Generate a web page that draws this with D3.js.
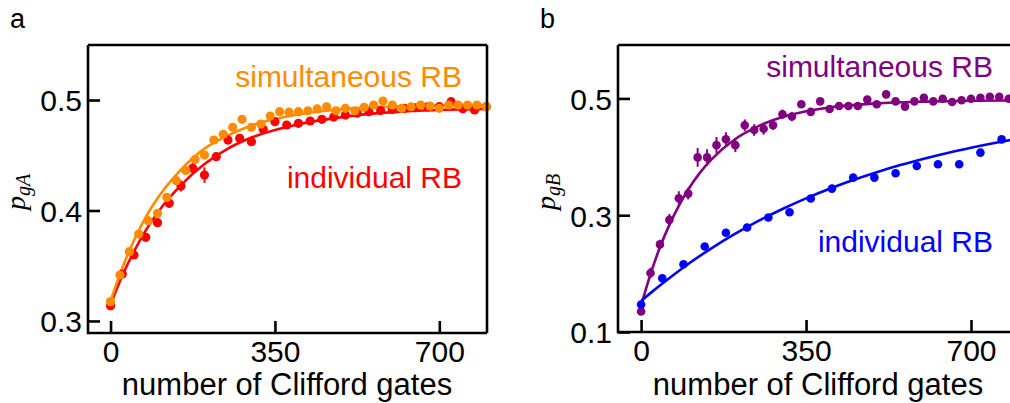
<!DOCTYPE html>
<html>
<head>
<meta charset="utf-8">
<script src="https://cdn.jsdelivr.net/npm/d3@7"></script>
<style>
  body { margin: 0; background: #fff; }
  svg text { font-family: "Liberation Sans", Arial, sans-serif; fill: #000; }
</style>
</head>
<body>
<div id="chart"></div>
<script>
// panel a: qubit A, simultaneous vs individual RB
const simAGates = [0, 20, 40, 60, 80, 100, 120, 140, 160, 180, 200, 220, 240, 260, 280, 300, 320, 340, 360, 380, 400, 420, 440, 460, 480, 500, 520, 540, 560, 580, 600, 620, 640, 660, 680, 700, 720, 740, 760, 780, 800];
const simAProb = [0.3175, 0.3416, 0.3627, 0.3787, 0.3908, 0.3975, 0.4119, 0.427, 0.4362, 0.4462, 0.4502, 0.4638, 0.469, 0.4753, 0.4825, 0.4753, 0.4783, 0.4855, 0.4894, 0.489, 0.4894, 0.4903, 0.4919, 0.4939, 0.4903, 0.4925, 0.4903, 0.4934, 0.4955, 0.4991, 0.4955, 0.4925, 0.4939, 0.4955, 0.4946, 0.4925, 0.4955, 0.4955, 0.4955, 0.4955, 0.4939];
const indAGates = [0, 25, 50, 75, 100, 125, 150, 175, 200, 225, 250, 275, 300, 325, 350, 375, 400, 425, 450, 475, 500, 525, 550, 575, 600, 625, 650, 675, 700, 725, 750, 775, 800];
const indAProb = [0.3138, 0.3425, 0.3597, 0.3757, 0.389, 0.4065, 0.4222, 0.4382, 0.4321, 0.4487, 0.4638, 0.4653, 0.4623, 0.4735, 0.4804, 0.4774, 0.4789, 0.481, 0.4825, 0.4846, 0.4864, 0.488, 0.4894, 0.4905, 0.4915, 0.4925, 0.493, 0.4937, 0.494, 0.4985, 0.492, 0.491, 0.494];
const indAErr = [0.003, 0.003, 0.003, 0.003, 0.004, 0.004, 0.005, 0.005, 0.007, 0.004, 0.004, 0.004, 0.004, 0.003, 0.003, 0.003, 0.003, 0.003, 0.003, 0.003, 0.003, 0.003, 0.003, 0.003, 0.003, 0.003, 0.003, 0.003, 0.003, 0.003, 0.003, 0.003, 0.003];
const fitAGates = [0, 25, 50, 75, 100, 150, 200, 250, 300, 400, 500, 600, 700, 800];
const simAFit = [0.318, 0.348, 0.373, 0.394, 0.411, 0.437, 0.456, 0.468, 0.477, 0.487, 0.492, 0.494, 0.495, 0.4955];
const indAFit = [0.315, 0.341, 0.363, 0.382, 0.398, 0.423, 0.442, 0.456, 0.466, 0.478, 0.485, 0.489, 0.491, 0.492];

// panel b: qubit B
const simBGates = [0, 20, 40, 60, 80, 100, 120, 140, 160, 180, 200, 220, 240, 260, 280, 300, 320, 340, 360, 380, 400, 420, 440, 460, 480, 500, 520, 540, 560, 580, 600, 620, 640, 660, 680, 700, 720, 740, 760, 780];
const simBProb = [0.135, 0.201, 0.25, 0.292, 0.329, 0.337, 0.399, 0.399, 0.42, 0.43, 0.42, 0.454, 0.446, 0.448, 0.454, 0.473, 0.469, 0.49, 0.477, 0.495, 0.482, 0.487, 0.487, 0.487, 0.498, 0.49, 0.507, 0.495, 0.486, 0.495, 0.501, 0.495, 0.4995, 0.494, 0.497, 0.4995, 0.501, 0.503, 0.503, 0.4995];
const simBErr = [0.006, 0.009, 0.008, 0.01, 0.012, 0.01, 0.016, 0.014, 0.014, 0.012, 0.012, 0.01, 0.01, 0.01, 0.008, 0.008, 0.008, 0.006, 0.006, 0.006, 0.005, 0.005, 0.005, 0.005, 0.005, 0.005, 0.005, 0.005, 0.005, 0.005, 0.005, 0.005, 0.005, 0.005, 0.005, 0.005, 0.005, 0.005, 0.005, 0.005];
const indBGates = [0, 45, 90, 135, 180, 225, 270, 315, 360, 405, 450, 495, 540, 585, 630, 675, 720, 765];
const indBProb = [0.147, 0.192, 0.216, 0.2465, 0.27, 0.279, 0.296, 0.305, 0.3285, 0.3456, 0.3644, 0.3644, 0.3718, 0.3843, 0.3872, 0.3872, 0.4072, 0.4299];
const simBFitGates = [0, 20, 40, 60, 80, 100, 125, 150, 200, 250, 300, 350, 400, 500, 600, 700, 800];
const simBFit = [0.145, 0.199, 0.245, 0.2835, 0.316, 0.344, 0.373, 0.396, 0.4305, 0.453, 0.468, 0.478, 0.4845, 0.4915, 0.4945, 0.496, 0.4965];
const indBFitGates = [0, 25, 50, 100, 150, 200, 250, 300, 350, 400, 450, 500, 550, 600, 650, 700, 750, 800];
const indBFit = [0.153, 0.17, 0.186, 0.2165, 0.2437, 0.2683, 0.2906, 0.3107, 0.3289, 0.3453, 0.3602, 0.3736, 0.3858, 0.3967, 0.4067, 0.4156, 0.4237, 0.4311];

const xTicks = [0, 350, 700];
const yTicksA = [0.3, 0.4, 0.5];
const yTicksB = [0.1, 0.3, 0.5];

const width = 1010;
const height = 403;

const svg = d3
  .select("#chart")
  .append("svg")
  .attr("width", width)
  .attr("height", height);

function zip(xs, ys, errs) {
  return xs.map((x, i) => ({ x: x, y: ys[i], e: errs ? errs[i] : 0 }));
}

function drawPanel(opts) {
  const g = svg.append("g");

  const x = d3.scaleLinear().domain(opts.xDomain).range(opts.xRange);
  const y = d3.scaleLinear().domain(opts.yDomain).range(opts.yRange);

  const line = d3
    .line()
    .x((d) => x(d.x))
    .y((d) => y(d.y))
    .curve(d3.curveMonotoneX);

  opts.fits.forEach((f) => {
    g.append("path")
      .datum(zip(f.x, f.y))
      .attr("fill", "none")
      .attr("stroke", f.color)
      .attr("stroke-width", 2.6)
      .attr("d", line);
  });

  opts.series.forEach((s) => {
    const data = zip(s.x, s.y, s.err);
    if (s.err) {
      g.selectAll(null)
        .data(data)
        .enter()
        .append("line")
        .attr("x1", (d) => x(d.x))
        .attr("x2", (d) => x(d.x))
        .attr("y1", (d) => y(d.y - d.e))
        .attr("y2", (d) => y(d.y + d.e))
        .attr("stroke", s.color)
        .attr("stroke-width", 2);
    }
    g.selectAll(null)
      .data(data)
      .enter()
      .append("circle")
      .attr("cx", (d) => x(d.x))
      .attr("cy", (d) => y(d.y))
      .attr("r", opts.r)
      .attr("fill", s.color);
  });

  // frame and inward ticks
  const [x0, x1] = opts.xRange;
  const [y0, y1] = opts.yRange;
  g.append("path")
    .attr("d", `M${x0},${y1}H${x1}M${x0},${y1}V${y0}H${x1}` + (opts.rightEdge ? `M${x1},${y1}V${y0}` : ""))
    .attr("fill", "none")
    .attr("stroke", "#000")
    .attr("stroke-width", 2.6);

  const xAxis = d3.axisBottom(x).tickValues(xTicks).tickSize(-12).tickPadding(8);
  const yAxis = d3.axisLeft(y).tickValues(opts.yTicks).tickSize(-12).tickPadding(6).tickFormat(d3.format(".1f"));

  const xa = g.append("g").attr("transform", `translate(0, ${y0})`).call(xAxis);
  const ya = g.append("g").attr("transform", `translate(${x0}, 0)`).call(yAxis);
  [xa, ya].forEach((a) => {
    a.select(".domain").remove();
    a.selectAll(".tick line").attr("stroke", "#000").attr("stroke-width", 2.6);
    a.selectAll(".tick text")
      .attr("fill", "#000")
      .style("font-size", "30px")
      .style("font-family", '"Liberation Sans", Arial, sans-serif');
  });
  ya.selectAll(".tick text").attr("dy", "0.36em");

  g.append("text")
    .attr("x", opts.titleX)
    .attr("y", 395)
    .attr("text-anchor", "middle")
    .style("font-size", "31px")
    .text("number of Clifford gates");

  const yl = g.append("text")
    .attr("transform", `translate(${opts.ylabelX}, 192) rotate(-90)`)
    .attr("text-anchor", "middle")
    .style("font-family", '"Liberation Serif", "DejaVu Serif", serif')
    .style("font-style", "italic");
  yl.append("tspan").style("font-size", "28px").text("p");
  yl.append("tspan").style("font-size", "20px").attr("dy", "5").text(opts.sub);

  g.append("text")
    .attr("x", opts.letterX)
    .attr("y", 28)
    .style("font-size", "27px")
    .text(opts.letter);

  opts.notes.forEach((n) => {
    g.append("text")
      .attr("x", n.x)
      .attr("y", n.y)
      .attr("text-anchor", "end")
      .style("fill", n.color)
      .style("font-size", "30px")
      .text(n.text);
  });
}

drawPanel({
  xDomain: [-48, 801.5],
  xRange: [88, 487],
  yDomain: [0.2891, 0.5498],
  yRange: [333, 45],
  yTicks: yTicksA,
  rightEdge: true,
  r: 4.6,
  fits: [
    { x: fitAGates, y: indAFit, color: "#ff0000" },
    { x: fitAGates, y: simAFit, color: "#ff8c00" },
  ],
  series: [
    { x: indAGates, y: indAProb, err: indAErr, color: "#ff0000" },
    { x: simAGates, y: simAProb, color: "#ff8c00" },
  ],
  notes: [
    { text: "simultaneous RB", x: 462, y: 87, color: "#ff8c00" },
    { text: "individual RB", x: 462, y: 188, color: "#ff0000" },
  ],
  titleX: 287,
  ylabelX: 25,
  sub: "gA",
  letter: "a",
  letterX: 10,
});

drawPanel({
  xDomain: [-49, 804],
  xRange: [618, 1020],
  yDomain: [0.1, 0.5915],
  yRange: [332, 45],
  yTicks: yTicksB,
  rightEdge: false,
  r: 4.3,
  fits: [
    { x: simBFitGates, y: simBFit, color: "#800080" },
    { x: indBFitGates, y: indBFit, color: "#0000ff" },
  ],
  series: [
    { x: simBGates, y: simBProb, err: simBErr, color: "#800080" },
    { x: indBGates, y: indBProb, color: "#0000ff" },
  ],
  notes: [
    { text: "simultaneous RB", x: 993, y: 77, color: "#800080" },
    { text: "individual RB", x: 993, y: 252, color: "#0000ff" },
  ],
  titleX: 818,
  ylabelX: 555,
  sub: "gB",
  letter: "b",
  letterX: 540,
});
</script>
</body>
</html>
